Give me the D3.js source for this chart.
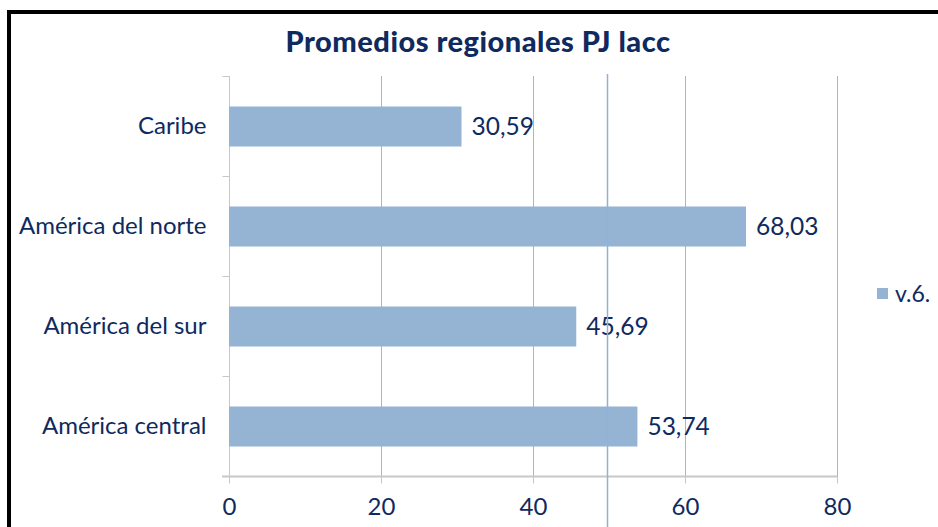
<!DOCTYPE html>
<html><head><meta charset="utf-8">
<script src="https://cdn.jsdelivr.net/npm/d3@7"></script>
<style>body{margin:0;background:#fff}svg{display:block}text{font-family:"Lato","Open Sans",sans-serif}</style>
</head><body>
<script>
const categories = ["Caribe", "América del norte", "América del sur", "América central"];
const values = [30.59, 68.03, 45.69, 53.74];
const valueLabels = ["30,59", "68,03", "45,69", "53,74"];
const xTicks = [0, 20, 40, 60, 80];
const refValue = 49.7;
const seriesName = "v.6.";
const title = "Promedios regionales PJ lacc";

const W = 938, H = 527;
const navy = "#0e2a5e";
const svg = d3.select("body").append("svg").attr("width", W).attr("height", H);

svg.append("rect").attr("x", 9).attr("y", 12).attr("width", 1000).attr("height", 600)
  .attr("fill", "none").attr("stroke", "#000").attr("stroke-width", 4);

const x = d3.scaleLinear().domain([0, 80]).range([229, 837]);
const y = d3.scaleBand().domain(categories).range([76.5, 476.5]).paddingInner(0.6).paddingOuter(0.3);

// gridlines
svg.append("g").selectAll("line").data(xTicks.slice(1)).join("line")
  .attr("x1", d => Math.round(x(d)) + 0.5).attr("x2", d => Math.round(x(d)) + 0.5)
  .attr("y1", 76).attr("y2", 477).attr("stroke", "#b4b4b4").attr("stroke-width", 1);

// y axis
const yAxisG = svg.append("g").attr("transform", "translate(229.5,0)");
yAxisG.append("line").attr("y1", 76).attr("y2", 477).attr("stroke", "#c8c8c8");
const yBounds = [0, 1, 2, 3, 4].map(i => 76.5 + i * y.step());
yAxisG.selectAll("line.tk").data(yBounds).join("line").attr("class", "tk")
  .attr("x1", -7).attr("x2", 0).attr("y1", d => d).attr("y2", d => d).attr("stroke", "#c8c8c8");
yAxisG.selectAll("text").data(categories).join("text")
  .attr("x", -23).attr("y", d => y(d) + y.bandwidth() / 2).attr("dy", "0.3em")
  .attr("text-anchor", "end").attr("fill", navy).attr("font-size", 24).text(d => d);

// bars
svg.append("g").selectAll("rect").data(categories).join("rect")
  .attr("x", x(0)).attr("y", d => y(d)).attr("height", y.bandwidth())
  .attr("width", (d, i) => x(values[i]) - x(0)).attr("fill", "#95b4d3");

// x axis
const xAxis = d3.axisBottom(x).tickValues(xTicks).tickSize(7).tickPadding(12).tickFormat(d3.format("d"));
const xg = svg.append("g").attr("transform", "translate(0,476.5)").call(xAxis);
xg.select(".domain").attr("stroke", "#c8c8c8").attr("stroke-width", 2).attr("d", "M222,0H837");
xg.selectAll(".tick line").attr("stroke", "#c8c8c8");
xg.selectAll(".tick text").attr("fill", navy).attr("font-size", 24).attr("font-family", "Lato, sans-serif")
  .attr("dy", null).attr("y", 38.5);

// value labels
svg.append("g").selectAll("text").data(categories).join("text")
  .attr("x", (d, i) => x(values[i]) + 10).attr("y", d => y(d) + y.bandwidth() / 2).attr("dy", "0.36em")
  .attr("fill", navy).attr("font-size", 24.5).text((d, i) => valueLabels[i]);

// reference line
svg.append("line").attr("x1", Math.round(x(refValue)) + 0.5).attr("x2", Math.round(x(refValue)) + 0.5)
  .attr("y1", 74).attr("y2", H).attr("stroke", "#8fb2d8").attr("stroke-width", 1.5);

// title
svg.append("text").attr("x", 478).attr("y", 52).attr("text-anchor", "middle")
  .attr("fill", navy).attr("font-size", 29).attr("font-weight", "900").attr("letter-spacing", 0.5).text(title);

// legend
const lg = svg.append("g").attr("transform", "translate(877,288)");
lg.append("rect").attr("width", 11).attr("height", 11).attr("fill", "#95b4d3");
lg.append("text").attr("x", 18).attr("y", 6).attr("dy", "0.35em").attr("fill", navy).attr("font-size", 23).text(seriesName);
</script>
</body></html>
